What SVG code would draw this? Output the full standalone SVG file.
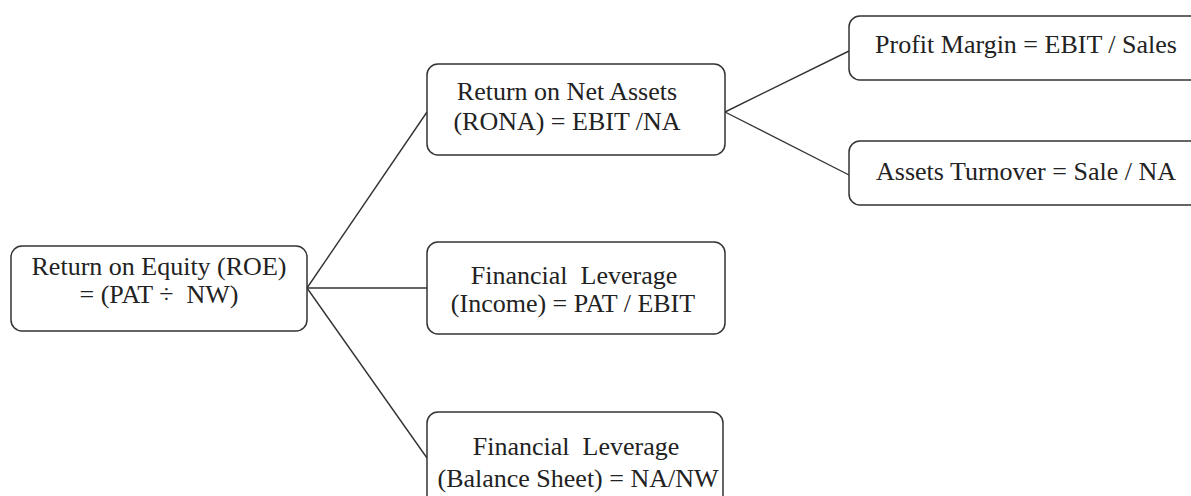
<svg xmlns="http://www.w3.org/2000/svg" width="1191" height="496" viewBox="0 0 1191 496">
<style>
.box{fill:#fff;stroke:#333;stroke-width:1.5}
.t{font-family:"Liberation Serif","Times New Roman",serif;font-size:26px;fill:#222;text-anchor:middle;white-space:pre}
.c{stroke:#333;stroke-width:1.4;fill:none}
</style>
<rect width="1191" height="496" fill="#fff"/>
<g id="connectors">
<line class="c" x1="307" y1="288" x2="427" y2="112"/>
<line class="c" x1="307" y1="288" x2="427" y2="288"/>
<line class="c" x1="307" y1="288" x2="427" y2="458"/>
<line class="c" x1="725" y1="112" x2="849" y2="51"/>
<line class="c" x1="725" y1="112" x2="849" y2="175"/>
</g>
<g id="roe">
<rect class="box" x="11" y="246" width="296" height="85" rx="11"/>
<text class="t" x="159" y="275">Return on Equity (ROE)</text>
<text class="t" x="159" y="303" xml:space="preserve">= (PAT ÷  NW)</text>
</g>
<g id="rona">
<rect class="box" x="427" y="64" width="298" height="91" rx="11"/>
<text class="t" x="567" y="100">Return on Net Assets</text>
<text class="t" x="567" y="130">(RONA) = EBIT /NA</text>
</g>
<g id="profit">
<rect class="box" x="849" y="16" width="360" height="64" rx="11"/>
<text class="t" x="1026" y="53">Profit Margin = EBIT / Sales</text>
</g>
<g id="turnover">
<rect class="box" x="849" y="141" width="360" height="64" rx="11"/>
<text class="t" x="1026" y="180">Assets Turnover = Sale / NA</text>
</g>
<g id="fl-income">
<rect class="box" x="427" y="242" width="298" height="92" rx="11"/>
<text class="t" x="574" y="284" xml:space="preserve">Financial  Leverage</text>
<text class="t" x="573" y="312">(Income) = PAT / EBIT</text>
</g>
<g id="fl-balance">
<rect class="box" x="427" y="412" width="296" height="100" rx="11"/>
<text class="t" x="576" y="455" xml:space="preserve">Financial  Leverage</text>
<text class="t" x="578" y="487">(Balance Sheet) = NA/NW</text>
</g>
</svg>
